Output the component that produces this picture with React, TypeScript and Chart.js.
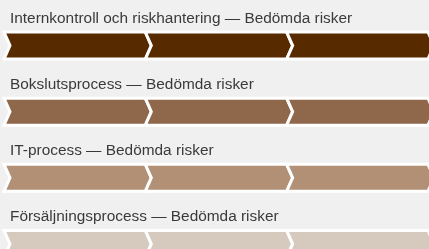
import React, { useEffect, useRef } from "react";
import { Chart, registerables } from "chart.js";

Chart.register(...registerables);

const categories = [
  "Internkontroll och riskhantering — Bedömda risker",
  "Bokslutsprocess — Bedömda risker",
  "IT-process — Bedömda risker",
  "Försäljningsprocess — Bedömda risker",
];
const segment1 = [1, 1, 1, 1];
const segment2 = [1, 1, 1, 1];
const segment3 = [1, 1, 1, 1];
const rowColors = ["#582a00", "#8f674a", "#b19076", "#d6c9bd"];

const chevronPlugin = {
  id: "chevrons",
  beforeDatasetsDraw() {
    return false;
  },
  afterDraw(chart: any) {
    const ctx = chart.ctx;
    const d = 6;
    ctx.save();
    chart.data.datasets.forEach((_ds: any, di: number) => {
      const meta = chart.getDatasetMeta(di);
      meta.data.forEach((el: any) => {
        const props = el.getProps(["x", "y", "base", "height"], true);
        const left = Math.min(props.base, props.x);
        const right = Math.max(props.base, props.x);
        const top = props.y - props.height / 2;
        const bottom = props.y + props.height / 2;
        ctx.beginPath();
        ctx.moveTo(left, top);
        ctx.lineTo(right, top);
        ctx.lineTo(right + d, props.y);
        ctx.lineTo(right, bottom);
        ctx.lineTo(left, bottom);
        ctx.lineTo(left + d, props.y);
        ctx.closePath();
        ctx.fillStyle = el.options.backgroundColor;
        ctx.fill();
        ctx.lineWidth = 3;
        ctx.lineJoin = "miter";
        ctx.strokeStyle = "#ffffff";
        ctx.stroke();
      });
    });
    const meta0 = chart.getDatasetMeta(0);
    ctx.fillStyle = "#3a3a3a";
    ctx.font = "15.4px 'Liberation Sans', Arial, sans-serif";
    ctx.textAlign = "left";
    ctx.textBaseline = "alphabetic";
    meta0.data.forEach((el: any, i: number) => {
      ctx.fillText(chart.data.labels[i], 10, el.y - 23);
    });
    ctx.restore();
  },
};

export default function App() {
  const ref = useRef<HTMLCanvasElement>(null);
  useEffect(() => {
    document.body.style.margin = "0";
    document.body.style.overflow = "hidden";
    document.body.style.background = "#f0f0f0";
    const mk = (data: number[]) => ({
      data,
      backgroundColor: rowColors,
      barThickness: 27,
    });
    const chart = new Chart(ref.current!, {
      type: "bar",
      data: {
        labels: categories,
        datasets: [mk(segment1), mk(segment2), mk(segment3)],
      },
      options: {
        indexAxis: "y",
        animation: false,
        responsive: false,
        layout: { padding: { left: 4, right: 1, top: 12.5, bottom: 0 } },
        plugins: { legend: { display: false }, tooltip: { enabled: false } },
        scales: {
          x: { stacked: true, display: false, min: 0, max: 3 },
          y: { stacked: true, display: false },
        },
      },
      plugins: [chevronPlugin],
    });
    return () => chart.destroy();
  }, []);
  return (
    <div style={{ width: 429, height: 249, overflow: "hidden", background: "#f0f0f0" }}>
      <canvas ref={ref} width={429} height={277} style={{ display: "block" }} />
    </div>
  );
}
